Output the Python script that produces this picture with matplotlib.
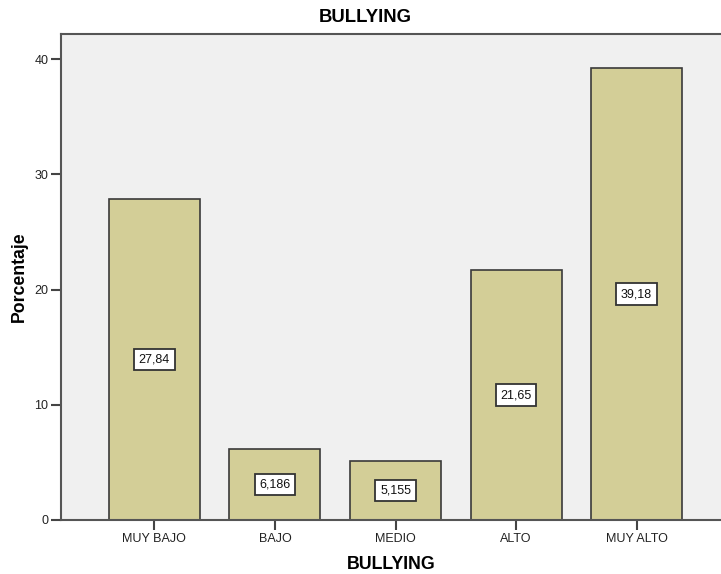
import matplotlib
matplotlib.use("Agg")
import matplotlib.pyplot as plt

categories = ["MUY BAJO", "BAJO", "MEDIO", "ALTO", "MUY ALTO"]
values = [27.84, 6.186, 5.155, 21.65, 39.18]
value_labels = ["27,84", "6,186", "5,155", "21,65", "39,18"]
yticks = [0, 10, 20, 30, 40]

plt.rcParams['font.family'] = ['Liberation Sans', 'DejaVu Sans']

fig = plt.figure(figsize=(7.21, 5.74), dpi=100)
fig.patch.set_facecolor('white')
ax = fig.add_axes([61/721, 1 - 520/574, 1 - 61/721, (520 - 34)/574])
ax.set_facecolor('#F0F0F0')

x = list(range(len(categories)))
ax.bar(x, values, width=0.755, color='#D3CE97', edgecolor='#3a3a3a', linewidth=1.2, zorder=2)

for xi, v, lab in zip(x, values, value_labels):
    ax.text(xi, v / 2, lab, ha='center', va='center', fontsize=9, color='#111111', zorder=3,
            bbox=dict(boxstyle='square,pad=0.38', facecolor='white', edgecolor='#333333', linewidth=1.3))

ax.set_xlim(-0.775, 4.70)
ax.set_ylim(0, 42.17)
ax.set_xticks(x)
ax.set_xticklabels(categories, fontsize=9)
ax.set_yticks(yticks)
ax.set_yticklabels([str(t) for t in yticks], fontsize=9)

for s in ['left', 'bottom', 'top']:
    ax.spines[s].set_color('#555555')
    ax.spines[s].set_linewidth(1.5)
ax.spines['right'].set_visible(False)

ax.tick_params(axis='both', direction='out', length=7, width=1.5, color='#444444', labelcolor='#222222', pad=2)

ax.set_xlabel('BULLYING', fontsize=12.8, fontweight='bold', labelpad=8)
ax.set_ylabel('Porcentaje', fontsize=12.7, fontweight='bold', labelpad=5)
fig.text(365/721, 1 - 18/574, 'BULLYING', ha='center', va='center', fontsize=13.3, fontweight='bold')

fig.savefig('out.png', dpi=100)
